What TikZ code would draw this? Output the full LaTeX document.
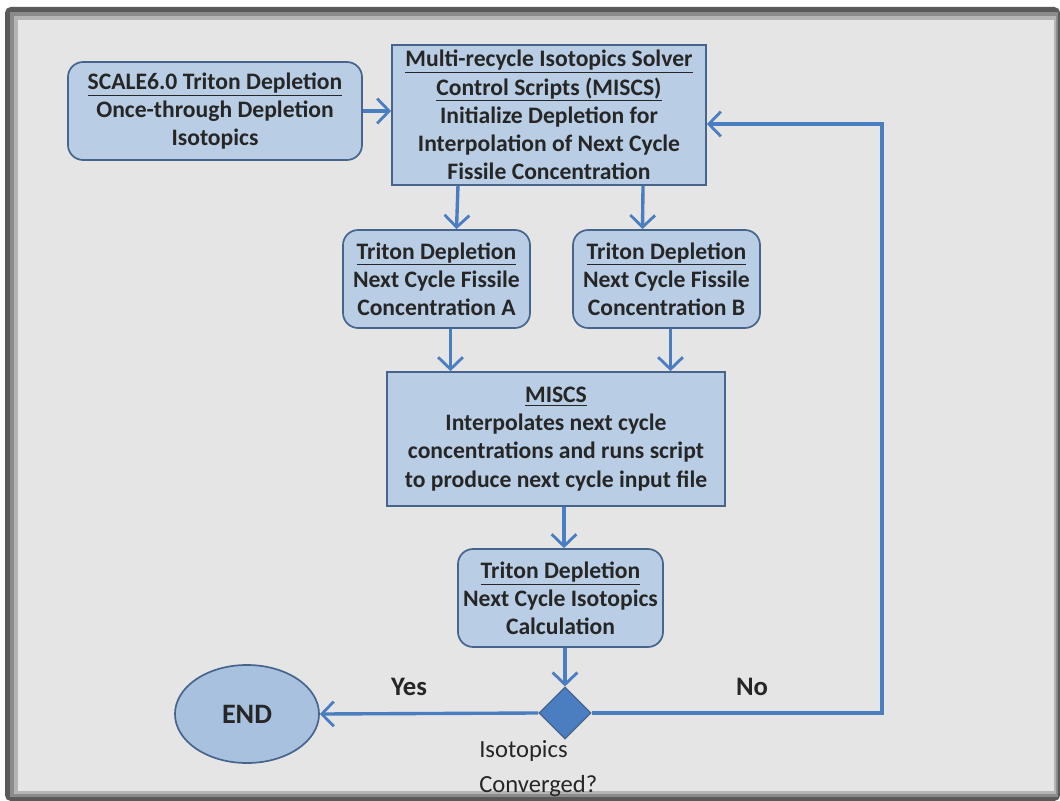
\documentclass[tikz,border=0pt]{standalone}
\usepackage{fontspec}
\setmainfont{Carlito}
\usetikzlibrary{arrows.meta,shapes.geometric}
\definecolor{boxfill}{RGB}{185, 205, 229}
\definecolor{boxline}{RGB}{70, 100, 140}
\definecolor{flowblue}{RGB}{74, 126, 192}
\definecolor{panel}{RGB}{229, 229, 229}
\definecolor{rim}{RGB}{90, 90, 90}
\tikzset{
  txt/.style={font=\fontsize{16.8}{20}\selectfont\bfseries, align=center, text=black!85},
  sqbox/.style={txt, draw=boxline, fill=boxfill, line width=1.2pt, inner sep=0pt},
  rndbox/.style={sqbox, rounded corners=0.38cm},
  flow/.style={draw=flowblue, line width=2.4pt, -{Straight Barb[length=0.3cm,width=0.62cm,line width=2pt]}},
}

\begin{document}
\begin{tikzpicture}[x=0.025cm, y=-0.025cm]
			\useasboundingbox (0,0) rectangle (1060,801);
			% frame
			\fill [white] (0,0) rectangle (1060,801);
			\fill [rim, rounded corners=4pt] (5,7) rectangle (1060,801);
			\fill [rim!70] (10,12) rectangle (1058,797);
			\fill [rim!45] (14,16) rectangle (1056,794);
			\fill [panel] (18,20) rectangle (1054,791);

			\node [rndbox, minimum width=7.35cm, minimum height=2.45cm] (scale) at (215,111)
				{\underline{SCALE6.0 Triton Depletion}\\Once-through Depletion\\Isotopics};
			\node [sqbox, minimum width=7.85cm, minimum height=3.5cm] (init) at (549,115)
				{\underline{Multi-recycle Isotopics Solver}\\\underline{Control Scripts (MISCS)}\\Initialize Depletion for\\Interpolation of Next Cycle\\Fissile Concentration};
			\node [rndbox, minimum width=4.675cm, minimum height=2.45cm] (trA) at (436.5,279)
				{\underline{Triton Depletion}\\Next Cycle Fissile\\Concentration A};
			\node [rndbox, minimum width=4.675cm, minimum height=2.45cm] (trB) at (666.5,279)
				{\underline{Triton Depletion}\\Next Cycle Fissile\\Concentration B};
			\node [sqbox, minimum width=8.45cm, minimum height=3.35cm] (interp) at (556,439)
				{\underline{MISCS}\\Interpolates next cycle\\concentrations and runs script\\to produce next cycle input file};
			\node [rndbox, minimum width=5.125cm, minimum height=2.45cm] (trNext) at (560.5,598)
				{\underline{Triton Depletion}\\Next Cycle Isotopics\\Calculation};
			\node [diamond, draw=boxline, fill=flowblue, line width=0.8pt, inner sep=0pt,
				minimum width=1.3cm, minimum height=1.3cm] (conv) at (565,713) {};
			\node [ellipse, draw=boxline, fill=boxfill!85!flowblue, line width=1.2pt, txt,
				font=\fontsize{20}{24}\selectfont\bfseries,
				minimum width=3.6cm, minimum height=2.45cm] (theend) at (247,714) {END};
			\node [txt, font=\fontsize{19}{22}\selectfont\bfseries] (yes) at (409,687) {Yes};
			\node [txt, font=\fontsize{19}{22}\selectfont\bfseries] (no) at (752,687) {No};
			\node [font=\fontsize{17.5}{25}\selectfont, align=left, anchor=north west, inner sep=0pt,
				text=black!85] (convlbl) at (479,740) {Isotopics\\Converged?};

			\coordinate (back) at (882,124);
			\draw [flow] (scale.east) -- (scale.east -| init.west);
			\draw [flow] ([xshift=-2.275cm]init.south) -- ([xshift=0.5cm]trA.north);
			\draw [flow] ([xshift=2.35cm]init.south) -- ([xshift=-0.6cm]trB.north);
			\draw [flow] ([xshift=0.35cm]trA.south) -- ([xshift=0.35cm]trA.south |- interp.north);
			\draw [flow] ([xshift=0.1cm]trB.south) -- ([xshift=0.1cm]trB.south |- interp.north);
			\draw [flow] ([xshift=0.2cm]interp.south) -- ([xshift=0.2cm]interp.south |- trNext.north);
			\draw [flow] (trNext.south -| conv.north) -- (conv.north);
			\draw [flow] (conv.west) -- (theend.east);
			\draw [flow] (conv.east) -| (back) -- (back -| init.east);
		\end{tikzpicture}
\end{document}
